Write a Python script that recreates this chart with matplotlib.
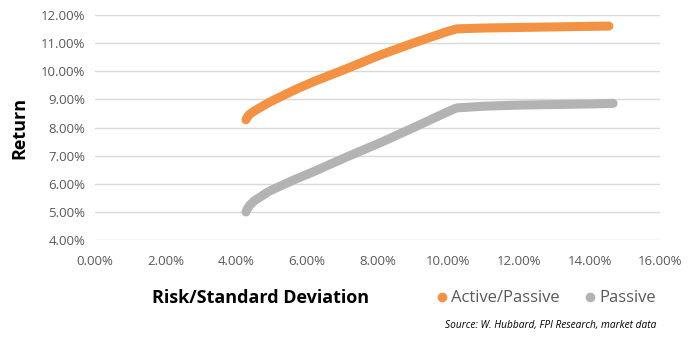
import matplotlib
matplotlib.use("Agg")
import matplotlib.pyplot as plt
from matplotlib.ticker import FuncFormatter
from matplotlib.lines import Line2D

# Data (percent)
active_risk = [4.27, 4.32, 4.40, 4.52, 4.67, 4.90, 5.24, 5.70, 6.18, 7.13, 8.07, 9.02, 9.96, 10.24, 11.0, 12.0, 13.0, 14.0, 14.55]
active_ret  = [8.28, 8.40, 8.50, 8.60, 8.71, 8.88, 9.09, 9.37, 9.63, 10.10, 10.58, 11.01, 11.41, 11.51, 11.54, 11.56, 11.58, 11.60, 11.61]
passive_risk = [4.27, 4.32, 4.40, 4.52, 4.67, 4.90, 5.24, 5.70, 6.18, 7.13, 8.07, 9.02, 9.96, 10.24, 11.0, 12.0, 13.0, 14.0, 14.67]
passive_ret  = [5.00, 5.14, 5.27, 5.41, 5.53, 5.72, 5.92, 6.18, 6.43, 6.96, 7.46, 8.00, 8.55, 8.70, 8.76, 8.80, 8.82, 8.84, 8.86]
series_names = ["Active/Passive", "Passive"]
x_ticks = [0, 2, 4, 6, 8, 10, 12, 14, 16]
y_ticks = [4, 5, 6, 7, 8, 9, 10, 11, 12]

orange = "#F39242"
gray = "#B3B3B3"
txt = "#595959"
font = "Open Sans"

fig = plt.figure(figsize=(7, 3.43), dpi=100)
ax = fig.add_axes([0.136, 0.30, 0.807, 0.656])

ax.plot(active_risk, active_ret, color=orange, lw=6.5, solid_capstyle="round", solid_joinstyle="round")
ax.plot(passive_risk, passive_ret, color=gray, lw=6.5, solid_capstyle="round", solid_joinstyle="round")

ax.set_xlim(0, 16)
ax.set_ylim(4, 12)
ax.set_xticks(x_ticks)
ax.set_yticks(y_ticks)
fmt = FuncFormatter(lambda v, p: f"{v:.2f}%")
ax.xaxis.set_major_formatter(fmt)
ax.yaxis.set_major_formatter(fmt)
ax.grid(axis="y", color="#D9D9D9", lw=1)
ax.set_axisbelow(True)
for s in ax.spines.values():
    s.set_visible(False)
ax.tick_params(length=0, labelsize=9.5, labelcolor=txt)
ax.tick_params(axis="x", pad=11)
ax.tick_params(axis="y", pad=7)
for lab in ax.get_xticklabels() + ax.get_yticklabels():
    lab.set_fontfamily(font)

ax.set_ylabel("Return", fontsize=13, fontweight="bold", fontfamily=font, labelpad=9, color="black")

fig.text(0.372, 0.13, "Risk/Standard Deviation", fontsize=13, fontweight="bold",
         fontfamily=font, ha="center", va="center", color="black")

handles = [Line2D([], [], marker="o", ls="none", color=orange, markersize=6),
           Line2D([], [], marker="o", ls="none", color=gray, markersize=6)]
leg = fig.legend(handles, series_names, loc="center", bbox_to_anchor=(0.778, 0.13),
                 ncol=2, frameon=False, handletextpad=0.05, columnspacing=1.3,
                 prop={"family": font, "size": 12}, handlelength=1.0)
for t in leg.get_texts():
    t.set_color(txt)

fig.text(0.786, 0.052, "Source: W. Hubbard, FPI Research, market data", fontsize=7.3,
         style="italic", fontfamily=font, ha="center", va="center", color="black")

fig.savefig("out.png", dpi=100)
